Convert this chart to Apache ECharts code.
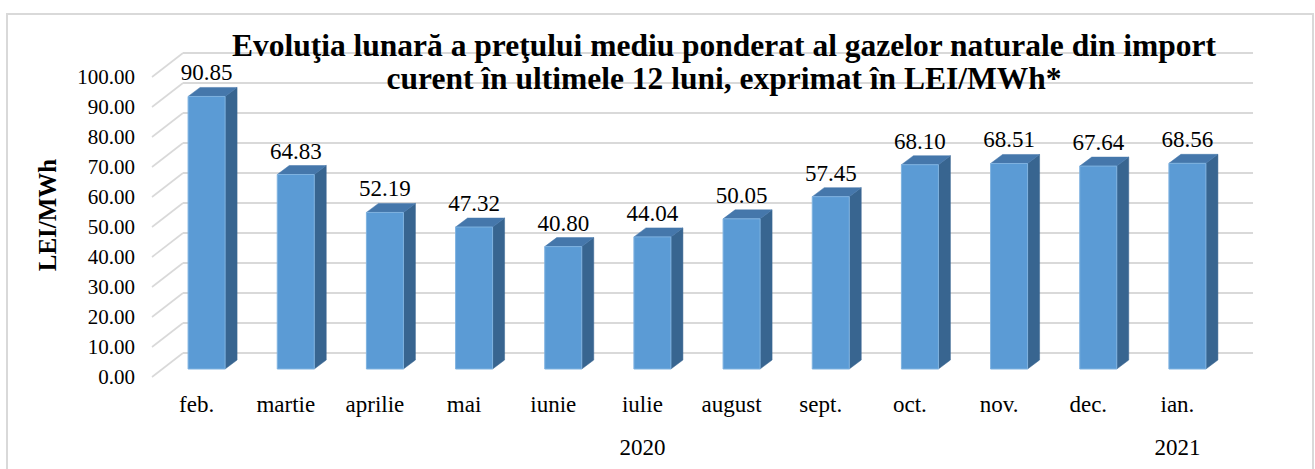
<!DOCTYPE html>
<html>
<head>
<meta charset="utf-8">
<script src="https://cdn.jsdelivr.net/npm/echarts@6/dist/echarts.min.js"></script>
<style>html,body{margin:0;padding:0;background:#fff}#c{width:1315px;height:469px}</style>
</head>
<body>
<div id="c"></div>
<script>
const categories = ['feb.', 'martie', 'aprilie', 'mai', 'iunie', 'iulie', 'august', 'sept.', 'oct.', 'nov.', 'dec.', 'ian.'];
const values = [90.85, 64.83, 52.19, 47.32, 40.80, 44.04, 50.05, 57.45, 68.10, 68.51, 67.64, 68.56];
const yearLabels = ['', '', '', '', '', '2020', '', '', '', '', '', '2021'];
const yTicks = [0, 10, 20, 30, 40, 50, 60, 70, 80, 90, 100];
const titleText = 'Evoluţia lunară a preţului mediu ponderat al gazelor naturale din import\ncurent în ultimele 12 luni, exprimat în LEI/MWh*';
const yName = 'LEI/MWh';

const FONT = "Liberation Serif";
// oblique projection offsets
const WALL_DX = -31, WALL_DY = 24;   // back wall -> front floor edge
const FRONT_DX = -21, FRONT_DY = 16; // back wall -> bar front face
const DEPTH_DX = 12, DEPTH_DY = -9;  // bar depth
const BAR_W = 37;

const chart = echarts.init(document.getElementById('c'), null, {renderer: 'svg'});

const option = {
  backgroundColor: '#fff',
  animation: false,
  title: {
    text: titleText,
    left: 719,
    top: 24,
    textAlign: 'center',
    textStyle: {fontFamily: FONT, fontWeight: 'bold', fontSize: 31.5, lineHeight: 33, color: '#000'}
  },
  graphic: [
    {type: 'rect', shape: {x: 7, y: 14, width: 1306, height: 480}, style: {fill: 'none', stroke: '#d9d9d9', lineWidth: 2}, z: -10},
    {type: 'text', x: 47, y: 215, rotation: Math.PI / 2,
     style: {text: yName, font: "bold 25px 'Liberation Serif'", fontFamily: FONT, fontWeight: 'bold', fontSize: 25, fill: '#000', textAlign: 'center', textVerticalAlign: 'middle'}}
  ],
  grid: [
    {left: 183, right: 62, top: 53, height: 300},
    {left: 152, right: 93, top: 77, height: 300}
  ],
  xAxis: [
    {type: 'category', gridIndex: 0, data: categories, axisLine: {show: false}, axisTick: {show: false}, axisLabel: {show: false}, splitLine: {show: false}},
    {type: 'category', gridIndex: 1, data: categories, position: 'bottom', axisLine: {show: false}, axisTick: {show: false},
     axisLabel: {margin: 16, fontFamily: FONT, fontSize: 23, color: '#000', interval: 0}},
    {type: 'category', gridIndex: 1, data: yearLabels, position: 'bottom', offset: 43, axisLine: {show: false}, axisTick: {show: false},
     axisLabel: {margin: 16, fontFamily: FONT, fontSize: 23, color: '#000', interval: 0}}
  ],
  yAxis: [
    {type: 'value', gridIndex: 0, min: 0, max: 100, interval: 10, axisLine: {show: false}, axisTick: {show: false}, axisLabel: {show: false},
     splitLine: {show: true, lineStyle: {color: '#d9d9d9', width: 2}}},
    {type: 'value', gridIndex: 1, min: 0, max: 100, interval: 10, axisLine: {show: false}, axisTick: {show: false}, splitLine: {show: false},
     axisLabel: {margin: 17, fontFamily: FONT, fontSize: 21, color: '#000', formatter: v => v.toFixed(2)}}
  ],
  series: [
    {
      type: 'custom', name: 'wall', xAxisIndex: 0, yAxisIndex: 0, z: 1,
      data: yTicks.map(v => [0, v]),
      renderItem: function (params, api) {
        const c = api.coord([api.value(0), api.value(1)]);
        const bw = api.size([1, 0])[0];
        const x = c[0] - bw / 2;
        return {type: 'line', shape: {x1: x + WALL_DX, y1: c[1] + WALL_DY, x2: x, y2: c[1]},
                style: {stroke: '#d9d9d9', lineWidth: 1.6}};
      }
    },
    {
      type: 'custom', name: 'LEI/MWh', xAxisIndex: 0, yAxisIndex: 0, z: 5,
      data: values.map((v, i) => [i, v]),
      renderItem: function (params, api) {
        const i = api.value(0), v = api.value(1);
        const top = api.coord([i, v]);
        const base = api.coord([i, 0]);
        const cx = top[0] + FRONT_DX;
        const fl = cx - BAR_W / 2, fr = cx + BAR_W / 2;
        const ft = top[1] + FRONT_DY, fb = base[1] + FRONT_DY;
        return {
          type: 'group',
          children: [
            {type: 'polygon', shape: {points: [[fr, ft], [fr + DEPTH_DX, ft + DEPTH_DY], [fr + DEPTH_DX, fb + DEPTH_DY], [fr, fb]]},
             style: {fill: '#386590', stroke: '#386590', lineWidth: 0.5}},
            {type: 'polygon', shape: {points: [[fl, ft], [fr, ft], [fr + DEPTH_DX, ft + DEPTH_DY], [fl + DEPTH_DX, ft + DEPTH_DY]]},
             style: {fill: '#4577ab', stroke: '#4577ab', lineWidth: 0.5}},
            {type: 'rect', shape: {x: fl, y: ft, width: BAR_W, height: fb - ft},
             style: {fill: '#5b9bd5', stroke: '#7fb2e0', lineWidth: 1}},
            {type: 'text', x: cx, y: ft + DEPTH_DY - 14.5,
             style: {text: v.toFixed(2), font: "23px 'Liberation Serif'", fontFamily: FONT, fontSize: 23, fill: '#000', textAlign: 'center', textVerticalAlign: 'middle'}}
          ]
        };
      }
    }
  ]
};
chart.setOption(option);
</script>
</body>
</html>
